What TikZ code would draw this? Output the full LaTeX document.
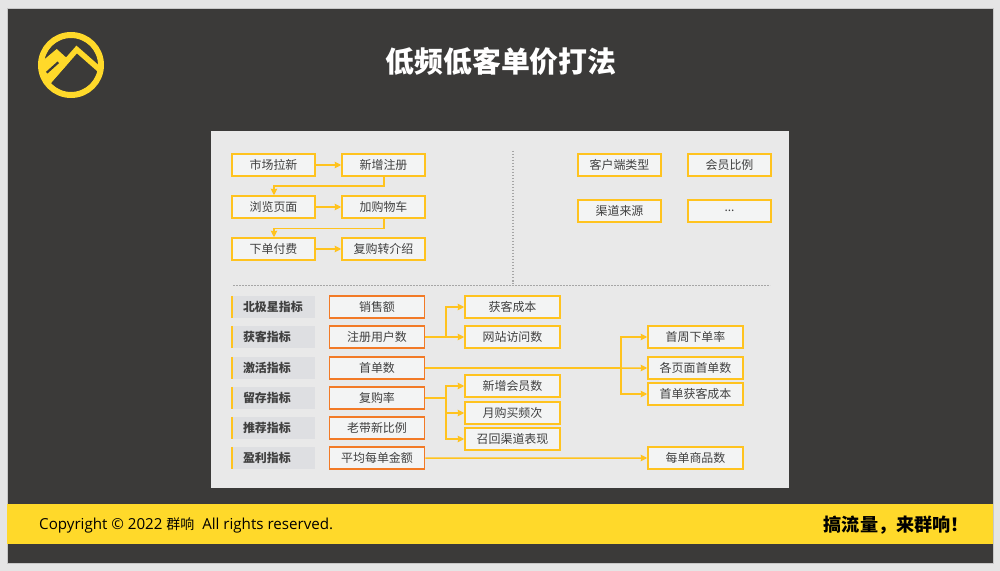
\documentclass[tikz,border=0pt]{standalone}
\usepackage{fontspec}
\setmainfont{Noto Sans CJK SC}
\newfontfamily\latinfont{Open Sans}
\usetikzlibrary{arrows.meta}
\definecolor{darkbg}{HTML}{3B3A39}
\definecolor{brandyellow}{HTML}{FFD92A}
\definecolor{boxyellow}{HTML}{FFC31F}
\definecolor{boxorange}{HTML}{F27A26}
\definecolor{panelgrey}{HTML}{E9E9E9}
\definecolor{boxfill}{HTML}{F3F4F4}
\definecolor{labelfill}{HTML}{DEDFE2}
\definecolor{boxtext}{HTML}{404040}
\definecolor{dotgrey}{HTML}{A6A6A6}

\begin{document}
\begin{tikzpicture}[x=1bp,y=-1bp,font=\fontsize{12pt}{14pt}\selectfont,
                    >={Stealth[length=6.5bp,width=6.5bp,inset=0.5bp]}]
  \tikzset{
    stepbox/.style={draw=boxyellow,line width=1.5bp,fill=boxfill,text=boxtext,inner sep=0,
                    minimum width=83bp,minimum height=22bp},
    metric/.style={stepbox,minimum width=95bp},
    kpi/.style={metric,draw=boxorange},
    tag/.style={fill=labelfill,text=boxtext,inner ysep=0,inner xsep=11bp,text width=61bp,align=left,
                minimum height=22bp,font=\fontsize{12pt}{14pt}\bfseries},
    link/.style={->,draw=boxyellow,line width=1.5bp},
    elbow/.style={link,to path={-- ++(#1,0) |- (\tikztotarget)}},
    wrap/.style={link,to path={-- ++(0,9.5) -| (\tikztotarget)}},
    dotline/.style={draw=dotgrey,line width=1.4bp,dash pattern=on 1.5bp off 1.5bp}
  }

  % page
  \useasboundingbox (0,0) rectangle (1000,571);
  \fill[black!10] (0,0) rectangle (1000,571);
  \draw[black!22,fill=darkbg] (7,8) rectangle (993,563);
  \fill[brandyellow] (7,504) rectangle (993,544);
  \fill[panelgrey] (211,131) rectangle (789,488);

  % logo
  \begin{scope}
    \clip (71,65) circle (30);
    \fill[brandyellow] (40,63) -- (56.7,49) -- (70,61) -- (50,84) -- (38,84) -- cycle;
    \draw[brandyellow,line width=5.5bp,miter limit=10] (49,81) -- (76.7,49.5) -- (100,70);
    \draw[darkbg,line width=2.2bp] (46.7,72.7) -- (58.3,62.3);
  \end{scope}
  \draw[brandyellow,line width=6bp] (71,65) circle (30);

  \node[text=white,font=\fontsize{29pt}{34pt}\bfseries] (title) at (501,61) {低频低客单价打法};
  \node[anchor=west,text=black,inner sep=0,font=\fontsize{15.2pt}{18pt}\latinfont] (copy) at (39,525.5)
        {Copyright © 2022 {\fontsize{14pt}{16pt}\selectfont\normalfont 群响}\ \ All rights reserved.};
  \node[anchor=east,text=black,inner sep=0,font=\fontsize{18.2pt}{20pt}\bfseries] (slogan) at (969,525) {搞流量，来群响！};

  % funnel
  \node[stepbox] (A) at (273.5,165) {市场拉新};
  \node[stepbox,node distance=110bp] (B) [right of=A] {新增注册};
  \node[stepbox,node distance=42bp] (C) [below of=A] {浏览页面};
  \node[stepbox,node distance=110bp] (D) [right of=C] {加购物车};
  \node[stepbox,node distance=42bp] (E) [below of=C] {下单付费};
  \node[stepbox,node distance=110bp] (F) [right of=E] {复购转介绍};

  \path (A) edge[link] (B);
  \path (C) edge[link] (D);
  \path (E) edge[link] (F);
  \path ([xshift=.5bp]B.south) edge[wrap] ([xshift=.5bp]C.north);
  \path ([xshift=.5bp]D.south) edge[wrap] ([xshift=.5bp]E.north);

  % dimensions
  \node[stepbox] (client) at (619.5,165) {客户端类型};
  \node[stepbox,node distance=110bp] (member) [right of=client] {会员比例};
  \node[stepbox,node distance=46bp] (channel) [below of=client] {渠道来源};
  \node[stepbox,node distance=110bp] (more) [right of=channel] {...};

  \coordinate (vtop) at (513,151);
  \coordinate (vend) at (513,284);
  \coordinate (hleft) at (233,285.5);
  \coordinate (hright) at (770,285.5);
  \draw[dotline] (vtop) -- (vend);
  \draw[dotline] (hleft) -- (hright);

  % indicator rows
  \node[tag] (star) at (273.5,307) {北极星指标};
  \node[tag,node distance=30bp] (acquire) [below of=star] {获客指标};
  \node[tag,node distance=31bp] (activate) [below of=acquire] {激活指标};
  \node[tag,node distance=30bp] (retain) [below of=activate] {留存指标};
  \node[tag,node distance=30bp] (refer) [below of=retain] {推荐指标};
  \node[tag,node distance=30bp] (profit) [below of=refer] {盈利指标};

  \foreach \n in {star,acquire,activate,retain,refer,profit}
    \draw[boxyellow,line width=1.5bp] (\n.north west) -- (\n.south west);

  \node[kpi,node distance=103.5bp] (sales) [right of=star] {销售额};
  \node[kpi,node distance=103.5bp] (users) [right of=acquire] {注册用户数};
  \node[kpi,node distance=103.5bp] (orders) [right of=activate] {首单数};
  \node[kpi,node distance=103.5bp] (repeat) [right of=retain] {复购率};
  \node[kpi,node distance=103.5bp] (ratio) [right of=refer] {老带新比例};
  \node[kpi,node distance=103.5bp] (amount) [right of=profit] {平均每单金额};

  \node[metric] (cac) at (512.5,307) {获客成本};
  \node[metric,node distance=30bp] (visits) [below of=cac] {网站访问数};
  \node[metric] (newvip) at (512.5,386) {新增会员数};
  \node[metric,node distance=27bp] (freq) [below of=newvip] {月购买频次};
  \node[metric,node distance=26bp] (recall) [below of=freq] {召回渠道表现};

  \node[metric] (week) at (695.5,337) {首周下单率};
  \node[metric,node distance=31bp] (pages) [below of=week] {各页面首单数};
  \node[metric,node distance=26bp] (first) [below of=pages] {首单获客成本};
  \node[metric] (items) at (695.5,458) {每单商品数};

  \path (users.east) edge[elbow=20.5] (cac.west);
  \path (users.east) edge[elbow=20.5] (visits.west);
  \path (orders.east) edge[elbow=195.5] (week.west);
  \path (orders.east) edge[link] (pages.west);
  \path (orders.east) edge[elbow=195.5] (first.west);
  \path (repeat.east) edge[elbow=20.5] (newvip.west);
  \path (repeat.east) edge[elbow=20.5] (freq.west);
  \path (repeat.east) edge[elbow=20.5] (recall.west);
  \path (amount.east) edge[link] (items.west);
\end{tikzpicture}
\end{document}
